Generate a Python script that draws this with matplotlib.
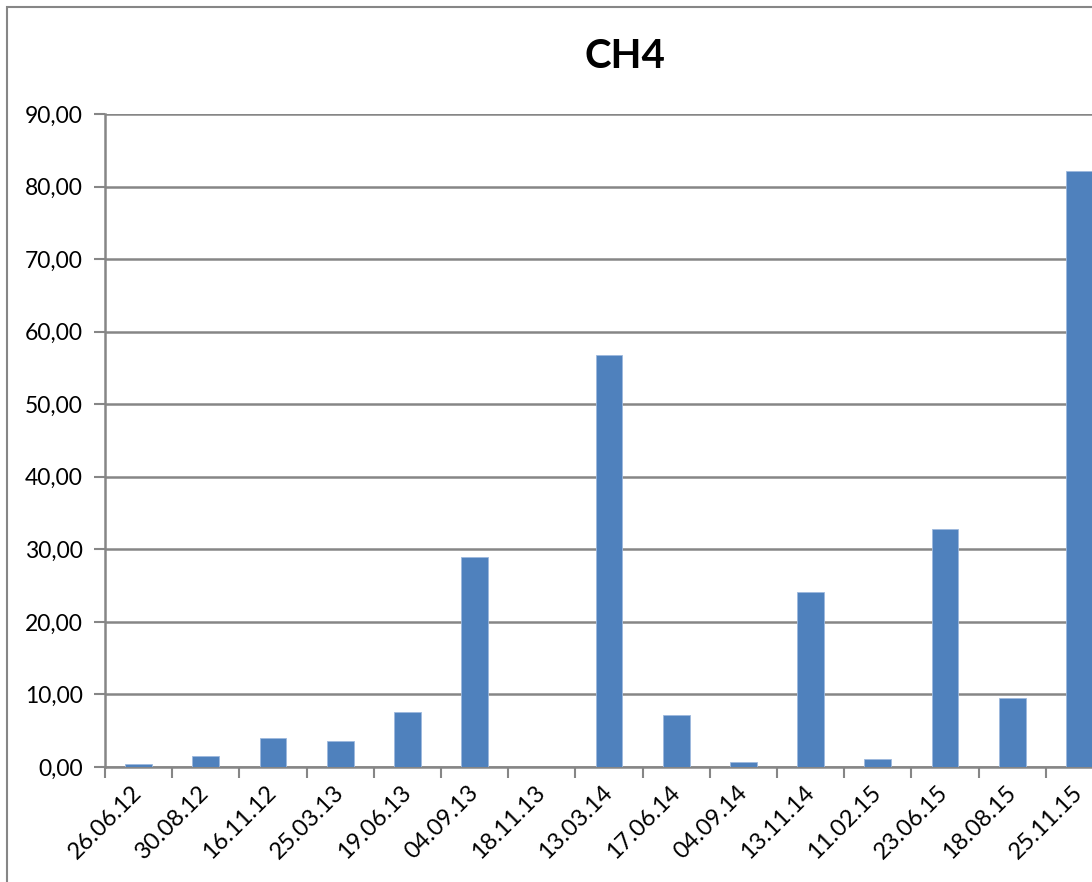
import numpy as np
import matplotlib
matplotlib.use("Agg")
import matplotlib.pyplot as plt
from matplotlib.patches import Rectangle
from matplotlib.ticker import FixedLocator, FuncFormatter

# ----- DATA -----
dates = ["26.06.12", "30.08.12", "16.11.12", "25.03.13", "19.06.13", "04.09.13",
         "18.11.13", "13.03.14", "17.06.14", "04.09.14", "13.11.14", "11.02.15",
         "23.06.15", "18.08.15", "25.11.15"]
ch4 = [0.4, 1.5, 4.0, 3.6, 7.6, 28.9, 0.0, 56.8, 7.2, 0.7, 24.1, 1.1, 32.8, 9.5, 82.1]
y_ticks = [0, 10, 20, 30, 40, 50, 60, 70, 80, 90]

plt.rcParams["font.family"] = ["Lato", "DejaVu Sans"]
grey = "#868686"

fig = plt.figure(figsize=(10.92, 8.82), dpi=100)
# chart frame (extends past the right/bottom edge, as in the cropped original)
fig.patches.append(Rectangle((7 / 1092, -0.1), 1.2, 1 - 7 / 882 + 0.1,
                             transform=fig.transFigure, fill=False,
                             edgecolor=grey, linewidth=1.5))

ax = fig.add_axes([105 / 1092, 1 - 767 / 882, 1008 / 1092, 653 / 882])
x = np.arange(len(dates))
ax.bar(x, ch4, width=0.4, color="#4F81BD", edgecolor="#9DB9DE", linewidth=0.6, zorder=3)

ax.set_xlim(-0.5, len(dates) - 0.5)
ax.set_ylim(0, 90)

# y axis
ax.set_yticks(y_ticks)
ax.yaxis.set_major_formatter(FuncFormatter(lambda v, p: f"{v:.2f}".replace(".", ",")))
ax.yaxis.grid(True, color=grey, linewidth=1.8, zorder=0)
ax.tick_params(axis="y", length=8, width=1.5, color=grey, labelsize=16.5, pad=8)

# x axis: ticks at category boundaries, labels at centers
ax.xaxis.set_major_locator(FixedLocator(np.arange(-0.5, len(dates), 1.0)))
ax.xaxis.set_minor_locator(FixedLocator(x))
ax.set_xticklabels([], minor=False)
ax.set_xticklabels(dates, minor=True, rotation=45, ha="right", va="center",
                   rotation_mode="anchor", fontsize=17)
ax.tick_params(axis="x", which="major", length=8, width=1.5, color=grey)
ax.tick_params(axis="x", which="minor", length=0, pad=16)

for side in ["top", "right"]:
    ax.spines[side].set_visible(False)
for side in ["left", "bottom"]:
    ax.spines[side].set_color(grey)
    ax.spines[side].set_linewidth(1.8)
ax.set_axisbelow(True)

fig.text(625 / 1092, 1 - 57 / 882, "CH4", ha="center", va="center",
         fontsize=29, fontweight="bold")

fig.savefig("out.png", dpi=100)
